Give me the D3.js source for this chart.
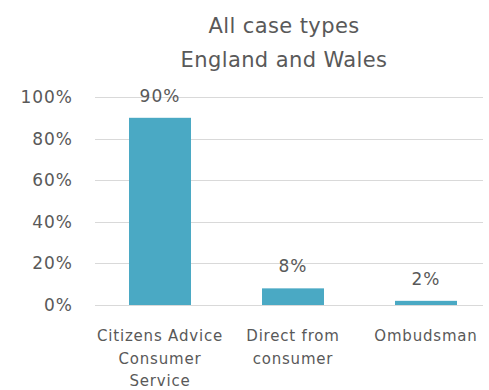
<!DOCTYPE html>
<html>
<head>
<meta charset="utf-8">
<script src="https://cdn.jsdelivr.net/npm/d3@7"></script>
<style>
  html, body { margin: 0; padding: 0; background: #fff; }
  text { font-family: "DejaVu Sans", Verdana, sans-serif; fill: #595959; }
</style>
</head>
<body>
<svg id="chart" width="489" height="390"></svg>
<script>
// Share of cases by source, England and Wales
const categories = [["Citizens Advice", "Consumer", "Service"], ["Direct from", "consumer"], ["Ombudsman"]];
const values = [0.90, 0.08, 0.02];
const valueLabels = ["90%", "8%", "2%"];
const yTicks = [0, 0.2, 0.4, 0.6, 0.8, 1.0];
const titleLines = ["All case types", "England and Wales"];

const svg = d3.select("#chart");
const W = 489, H = 390;
const plot = { left: 95, right: 483, top: 97, bottom: 305 };

// Category bands run a little past the gridlines on the right
const x = d3.scaleBand()
  .domain(d3.range(values.length))
  .range([93.5, 492.5])
  .paddingInner(0.534)
  .paddingOuter(0.267);

const y = d3.scaleLinear().domain([0, 1]).range([plot.bottom, plot.top]);

// Title
svg.append("g").selectAll("text").data(titleLines).join("text")
  .attr("x", 284)
  .attr("y", (d, i) => 33 + i * 34)
  .attr("text-anchor", "middle")
  .style("font-size", "21px")
  .style("letter-spacing", "0.4px")
  .text(d => d);

// Gridlines
svg.append("g").selectAll("line").data(yTicks).join("line")
  .attr("x1", plot.left)
  .attr("x2", plot.right)
  .attr("y1", d => Math.round(y(d)) + 0.5)
  .attr("y2", d => Math.round(y(d)) + 0.5)
  .attr("stroke", "#d9d9d9")
  .attr("stroke-width", 1);

// Y axis labels
const yAxis = d3.axisLeft(y).tickValues(yTicks).tickFormat(d3.format(".0%")).tickSize(0).tickPadding(22);
const gy = svg.append("g").attr("transform", `translate(${plot.left},0)`).call(yAxis);
gy.select(".domain").remove();
gy.selectAll("text")
  .style("font-size", "17px")
  .style("letter-spacing", "1px")
  .style("fill", "#595959")
  .style("font-family", "'DejaVu Sans', Verdana, sans-serif");

// Bars
svg.append("g").selectAll("rect").data(values).join("rect")
  .attr("x", (d, i) => x(i))
  .attr("width", x.bandwidth())
  .attr("y", d => y(d))
  .attr("height", d => y(0) - y(d))
  .attr("fill", "#4aa9c4");

// Value labels
svg.append("g").selectAll("text").data(values).join("text")
  .attr("x", (d, i) => x(i) + x.bandwidth() / 2)
  .attr("y", d => y(d) - 16)
  .attr("text-anchor", "middle")
  .style("font-size", "17px")
  .style("letter-spacing", "1px")
  .text((d, i) => valueLabels[i]);

// Category labels
const cat = svg.append("g").selectAll("text").data(categories).join("text")
  .attr("text-anchor", "middle")
  .style("font-size", "15px")
  .style("letter-spacing", "0.8px");
cat.selectAll("tspan").data((d, i) => d.map(s => ({ s, i }))).join("tspan")
  .attr("x", d => x(d.i) + x.bandwidth() / 2)
  .attr("y", (d, j) => plot.bottom + 36 + j * 22.5)
  .text(d => d.s);
</script>
</body>
</html>
